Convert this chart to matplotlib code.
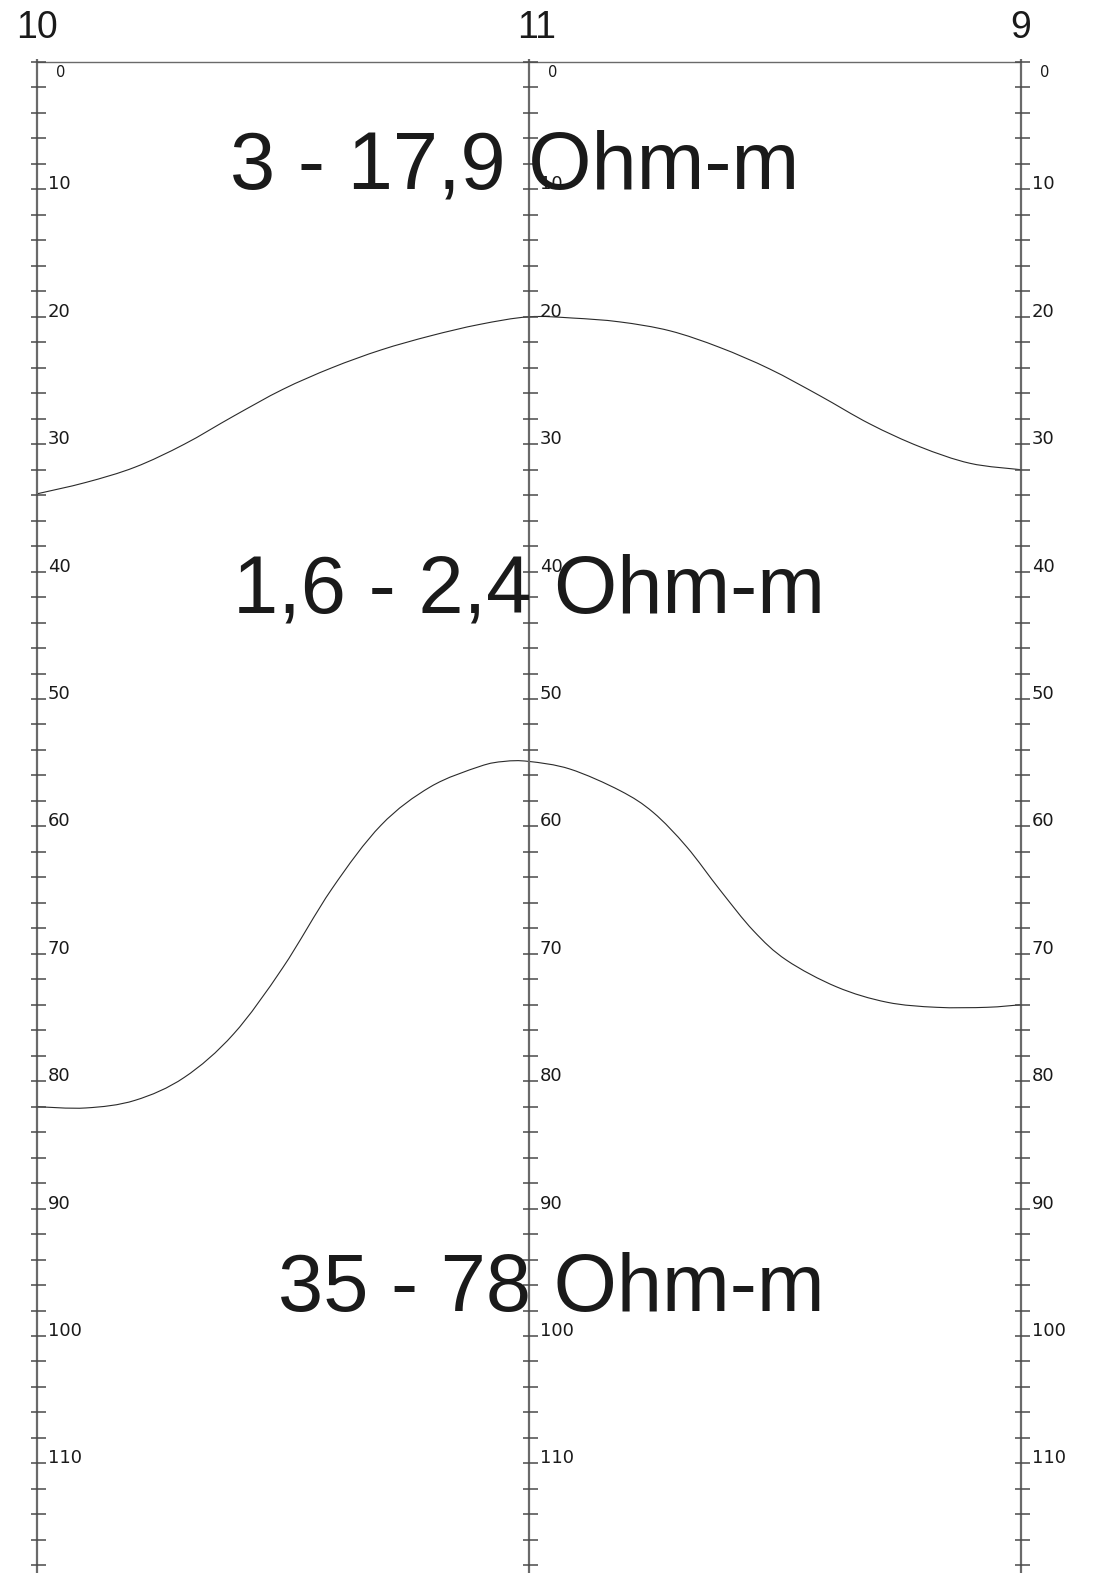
import matplotlib
matplotlib.use("Agg")
import matplotlib.pyplot as plt
from matplotlib.path import Path
from matplotlib.patches import PathPatch
import numpy as np

# ---- data ----
station_labels = ["10", "11", "9"]
station_pos = [0.0, 1.0, 2.0]

depth_ticks = list(range(0, 119, 2))
depth_labels = list(range(10, 111, 10))

# boundary 1 (top of conductive layer)
b1_x = [0.0, 0.1, 0.2, 0.3, 0.4, 0.5, 0.6, 0.7, 0.8, 0.9, 1.0,
        1.09, 1.185, 1.287, 1.388, 1.490, 1.592, 1.693, 1.795, 1.897, 2.0]
b1_d = [33.9, 33.0, 31.8, 30.0, 27.8, 25.7, 24.0, 22.6, 21.5, 20.6, 20.0,
        20.1, 20.4, 21.1, 22.4, 24.1, 26.2, 28.4, 30.2, 31.5, 32.0]

# boundary 2 (top of resistive basement)
b2_x = [0.0, 0.1, 0.2, 0.3, 0.4, 0.5, 0.6, 0.7, 0.8, 0.9, 0.95, 1.0,
        1.084, 1.186, 1.253, 1.321, 1.389, 1.457, 1.524, 1.626, 1.728,
        1.829, 1.931, 2.0]
b2_d = [82.0, 82.1, 81.5, 79.7, 76.3, 71.1, 64.9, 59.9, 56.9, 55.3, 54.9, 54.9,
        55.5, 57.2, 58.9, 61.6, 65.0, 68.2, 70.5, 72.6, 73.8,
        74.2, 74.2, 74.0]

layer_texts = ["3 - 17,9 Ohm-m", "1,6 - 2,4 Ohm-m", "35 - 78 Ohm-m"]
layer_x = [0.972, 1.0016, 1.046]
layer_d = [9.95, 43.2, 98.0]


def smooth_path(xs, ys):
    """Catmull-Rom spline through the given points, as cubic Bezier path."""
    p = np.column_stack([xs, ys]).astype(float)
    n = len(p)
    verts = [p[0]]
    codes = [Path.MOVETO]
    for i in range(n - 1):
        p0 = p[i - 1] if i > 0 else p[i]
        p1 = p[i]
        p2 = p[i + 1]
        p3 = p[i + 2] if i + 2 < n else p[i + 1]
        c1 = p1 + (p2 - p0) / 6.0
        c2 = p2 - (p3 - p1) / 6.0
        verts += [c1, c2, p2]
        codes += [Path.CURVE4] * 3
    return Path(np.array(verts), codes)


# ---- figure ----
W, H = 1104, 1573
fig = plt.figure(figsize=(W / 100, H / 100), dpi=100)
ax = fig.add_axes([0, 0, 1, 1])
ax.set_axis_off()

px_per_unit_x = 492.0
x0_px = 36.7
ax.set_xlim(-x0_px / px_per_unit_x, (W - x0_px) / px_per_unit_x)
py0 = 62.0
py_per = 12.74
ax.set_ylim((H - py0) / py_per, -py0 / py_per)

axis_col = "#6a6a6a"
tick_col = "#4a4a4a"
dmax = (H - py0) / py_per + 1

# top line
ax.plot([station_pos[0], station_pos[-1]], [0, 0], color=axis_col, lw=1.0,
        solid_capstyle="butt")

tl = 6 / px_per_unit_x
tr = 9 / px_per_unit_x
for xs in station_pos:
    ax.plot([xs, xs], [-0.2, dmax], color=axis_col, lw=1.6, solid_capstyle="butt")
    ax.hlines(depth_ticks, xs - tl, xs + tr, color=tick_col, lw=1.1)
    ax.text(xs + 19 / px_per_unit_x, 1.2, "0", fontsize=10.5, family="DejaVu Sans",
            ha="left", va="baseline", color="#1a1a1a")
    for d in depth_labels:
        ax.text(xs + 11 / px_per_unit_x, d, str(d), fontsize=13, family="DejaVu Sans",
                ha="left", va="baseline", color="#1a1a1a")

label_shift_px = {"11": 8}
for xs, lab in zip(station_pos, station_labels):
    ax.text(xs + label_shift_px.get(lab, 0) / px_per_unit_x, -1.88, lab,
            fontsize=27, family="Liberation Sans",
            ha="center", va="baseline", color="#1a1a1a")

for bx, bd in ((b1_x, b1_d), (b2_x, b2_d)):
    ax.add_patch(PathPatch(smooth_path(bx, bd), facecolor="none",
                           edgecolor="#2a2a2a", lw=0.8))

for t, x, d in zip(layer_texts, layer_x, layer_d):
    ax.text(x, d, t, fontsize=58.5, family="Liberation Sans", ha="center",
            va="baseline", color="#1a1a1a")

fig.savefig("out.png", dpi=100, facecolor="white")
